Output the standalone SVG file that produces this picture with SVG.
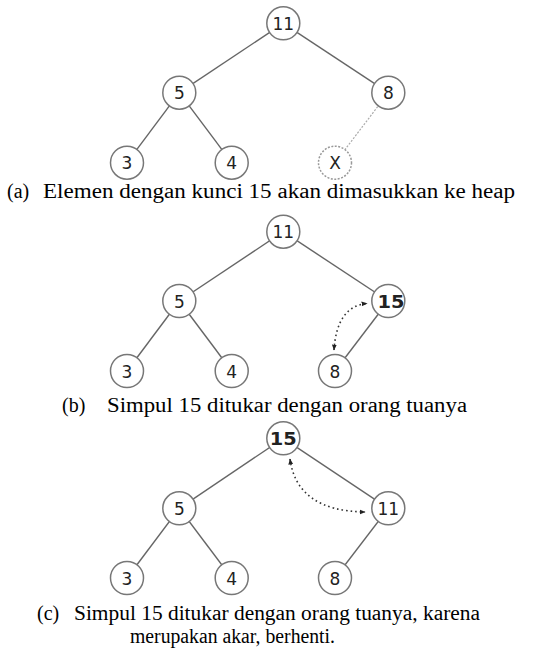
<svg xmlns="http://www.w3.org/2000/svg" width="550" height="651" viewBox="0 0 550 651">
  <style>
    .edge { stroke: #666; stroke-width: 1.4; fill: none; }
    .ghost-edge { stroke: #aaa; stroke-width: 1.2; stroke-dasharray: 2 1.5; fill: none; }
    .node circle { fill: #fff; stroke: #777; stroke-width: 1.5; }
    .node.ghost circle { stroke: #999; stroke-dasharray: 2 1.5; }
    .node text { font-family: "DejaVu Sans", sans-serif; font-size: 17px; fill: #222; text-anchor: middle; dominant-baseline: central; }
    .node text.hot { font-weight: bold; }
    .swap { stroke: #333; stroke-width: 1.6; stroke-dasharray: 1.6 3; fill: none; marker-start: url(#tip); marker-end: url(#tip); }
    .caption { font-family: "Liberation Serif", "Times New Roman", serif; font-size: 20px; fill: #000; }
  </style>
  <defs>
    <marker id="tip" viewBox="0 0 10 10" refX="9" refY="5" markerWidth="6" markerHeight="6" markerUnits="userSpaceOnUse" orient="auto-start-reverse">
      <path d="M0,1 L10,5 L0,9 z" fill="#222"/>
    </marker>
  </defs>

  <!-- (a) insertion point -->
  <g id="connectors-a">
    <line class="edge" x1="283.3" y1="23.3" x2="179.3" y2="92.7"/>
    <line class="edge" x1="283.3" y1="23.3" x2="388.3" y2="92.7"/>
    <line class="edge" x1="179.3" y1="92.7" x2="127" y2="162.7"/>
    <line class="edge" x1="179.3" y1="92.7" x2="231.7" y2="162.7"/>
    <line class="ghost-edge" x1="388.3" y1="92.7" x2="335" y2="162.7"/>
  </g>
  <g id="a-n11" class="node"><circle cx="283.3" cy="23.3" r="16.5"/><text x="283.3" y="23.8">11</text></g>
  <g id="a-n5" class="node"><circle cx="179.3" cy="92.7" r="16.5"/><text x="179.3" y="93.2">5</text></g>
  <g id="a-n8" class="node"><circle cx="388.3" cy="92.7" r="16.5"/><text x="388.3" y="93.2">8</text></g>
  <g id="a-n3" class="node"><circle cx="127" cy="162.7" r="16.5"/><text x="127" y="163.2">3</text></g>
  <g id="a-n4" class="node"><circle cx="231.7" cy="162.7" r="16.5"/><text x="231.7" y="163.2">4</text></g>
  <g id="a-nx" class="node ghost"><circle cx="335" cy="162.7" r="16.5"/><text x="335" y="163.2">X</text></g>
  <text class="caption" x="7" y="198">(a)</text>
  <text class="caption" x="43" y="198" textLength="472" lengthAdjust="spacingAndGlyphs">Elemen dengan kunci 15 akan dimasukkan ke heap</text>

  <!-- (b) first swap -->
  <g id="connectors-b">
    <line class="edge" x1="283.3" y1="231.7" x2="179.3" y2="301"/>
    <line class="edge" x1="283.3" y1="231.7" x2="388.3" y2="301"/>
    <line class="edge" x1="179.3" y1="301" x2="127" y2="371"/>
    <line class="edge" x1="179.3" y1="301" x2="231.7" y2="371"/>
    <line class="edge" x1="388.3" y1="301" x2="335" y2="371"/>
    <path class="swap" d="M334,350 Q337,306 367,303.5"/>
  </g>
  <g id="b-n11" class="node"><circle cx="283.3" cy="231.7" r="16.5"/><text x="283.3" y="232.2">11</text></g>
  <g id="b-n5" class="node"><circle cx="179.3" cy="301" r="16.5"/><text x="179.3" y="301.5">5</text></g>
  <g id="b-n15" class="node"><circle cx="388.3" cy="301" r="16.5"/><text class="hot" x="391" y="301.5" textLength="27" lengthAdjust="spacingAndGlyphs">15</text></g>
  <g id="b-n3" class="node"><circle cx="127" cy="371" r="16.5"/><text x="127" y="371.5">3</text></g>
  <g id="b-n4" class="node"><circle cx="231.7" cy="371" r="16.5"/><text x="231.7" y="371.5">4</text></g>
  <g id="b-n8" class="node"><circle cx="335" cy="371" r="16.5"/><text x="335" y="371.5">8</text></g>
  <text class="caption" x="62" y="411.5">(b)</text>
  <text class="caption" x="107" y="411.5" textLength="360" lengthAdjust="spacingAndGlyphs">Simpul 15 ditukar dengan orang tuanya</text>

  <!-- (c) second swap, reaches the root -->
  <g id="connectors-c">
    <line class="edge" x1="283.3" y1="438.3" x2="179.3" y2="508.3"/>
    <line class="edge" x1="283.3" y1="438.3" x2="388.3" y2="508.3"/>
    <line class="edge" x1="179.3" y1="508.3" x2="127" y2="578"/>
    <line class="edge" x1="179.3" y1="508.3" x2="231.7" y2="578"/>
    <line class="edge" x1="388.3" y1="508.3" x2="335" y2="578"/>
    <path class="swap" d="M290,459 Q297,511 365,512"/>
  </g>
  <g id="c-n15" class="node"><circle cx="283.3" cy="438.3" r="16.5"/><text class="hot" x="283.3" y="438.8" textLength="27" lengthAdjust="spacingAndGlyphs">15</text></g>
  <g id="c-n5" class="node"><circle cx="179.3" cy="508.3" r="16.5"/><text x="179.3" y="508.8">5</text></g>
  <g id="c-n11" class="node"><circle cx="388.3" cy="508.3" r="16.5"/><text x="388.3" y="508.8">11</text></g>
  <g id="c-n3" class="node"><circle cx="127" cy="578" r="16.5"/><text x="127" y="578.5">3</text></g>
  <g id="c-n4" class="node"><circle cx="231.7" cy="578" r="16.5"/><text x="231.7" y="578.5">4</text></g>
  <g id="c-n8" class="node"><circle cx="335" cy="578" r="16.5"/><text x="335" y="578.5">8</text></g>
  <text class="caption" x="37" y="620">(c)</text>
  <text class="caption" x="74" y="620" textLength="406" lengthAdjust="spacingAndGlyphs">Simpul 15 ditukar dengan orang tuanya, karena</text>
  <text class="caption" x="130" y="642.5" textLength="205" lengthAdjust="spacingAndGlyphs">merupakan akar, berhenti.</text>
</svg>
